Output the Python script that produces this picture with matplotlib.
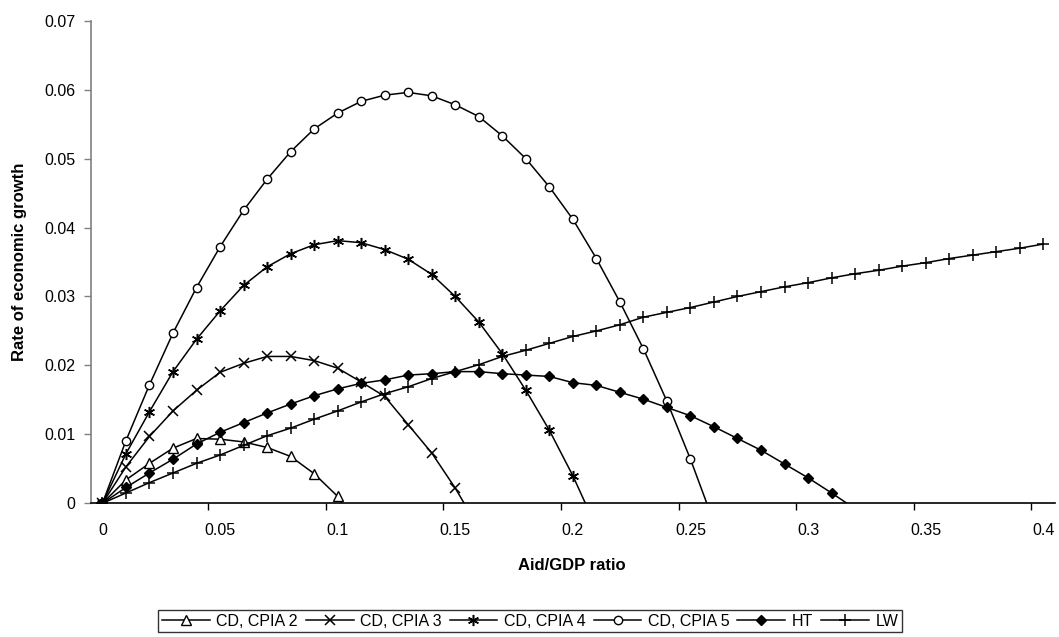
import matplotlib
matplotlib.use("Agg")
import matplotlib.pyplot as plt

plt.rcParams["font.family"] = ["Liberation Sans", "DejaVu Sans"]

# aid/GDP categories (0.00 .. 0.40)
AID_RATIO = [
    0.00, 0.01, 0.02, 0.03, 0.04, 0.05, 0.06, 0.07, 0.08, 0.09,
    0.10, 0.11, 0.12, 0.13, 0.14, 0.15, 0.16, 0.17, 0.18, 0.19,
    0.20, 0.21, 0.22, 0.23, 0.24, 0.25, 0.26, 0.27, 0.28, 0.29,
    0.30, 0.31, 0.32, 0.33, 0.34, 0.35, 0.36, 0.37, 0.38, 0.39, 0.40,
]

CD_CPIA2 = [0.0, 0.0034, 0.0058, 0.0080, 0.0094, 0.0093, 0.0089, 0.0081,
            0.0068, 0.0043, 0.0010, -0.0045]
CD_CPIA3 = [0.0, 0.0053, 0.0097, 0.0134, 0.0164, 0.0190, 0.0203, 0.0213,
            0.0213, 0.0207, 0.0196, 0.0176, 0.0155, 0.0114, 0.0073, 0.0022,
            -0.0036]
CD_CPIA4 = [0.0, 0.0072, 0.0133, 0.0191, 0.0238, 0.0279, 0.0316, 0.0343,
            0.0362, 0.0375, 0.0381, 0.0378, 0.0368, 0.0354, 0.0332, 0.0300,
            0.0263, 0.0217, 0.0164, 0.0106, 0.0040, -0.0035]
CD_CPIA5 = [0.0, 0.0091, 0.0172, 0.0247, 0.0313, 0.0372, 0.0425, 0.0470,
            0.0510, 0.0543, 0.0566, 0.0583, 0.0592, 0.0596, 0.0591, 0.0578,
            0.0561, 0.0533, 0.0500, 0.0459, 0.0412, 0.0355, 0.0292, 0.0224,
            0.0148, 0.0064, -0.0028]
HT = [0.0, 0.0023, 0.0044, 0.0064, 0.0086, 0.0103, 0.0117, 0.0131, 0.0144,
      0.0156, 0.0166, 0.0174, 0.0179, 0.0186, 0.0188, 0.0191, 0.0191, 0.0188,
      0.0186, 0.0184, 0.0175, 0.0171, 0.0161, 0.0151, 0.0139, 0.0127, 0.0111,
      0.0094, 0.0077, 0.0057, 0.0037, 0.0015, -0.0008]
LW = [0.0, 0.0015, 0.0030, 0.0044, 0.0058, 0.0070, 0.0084, 0.0098, 0.0109,
      0.0122, 0.0134, 0.0147, 0.0159, 0.0169, 0.0181, 0.0191, 0.0201, 0.0213,
      0.0222, 0.0232, 0.0242, 0.0250, 0.0259, 0.0270, 0.0277, 0.0284, 0.0292,
      0.0300, 0.0307, 0.0314, 0.0320, 0.0327, 0.0333, 0.0338, 0.0344, 0.0349,
      0.0355, 0.0360, 0.0365, 0.0370, 0.0376]

X_TICKS = [0, 0.05, 0.1, 0.15, 0.2, 0.25, 0.3, 0.35, 0.4]
Y_TICKS = [0, 0.01, 0.02, 0.03, 0.04, 0.05, 0.06, 0.07]

SERIES = [
    ("CD, CPIA 2", CD_CPIA2, dict(marker="^", ms=7.5, mfc="white", mew=1.0)),
    ("CD, CPIA 3", CD_CPIA3, dict(marker="x", ms=7.5, mew=1.1)),
    ("CD, CPIA 4", CD_CPIA4, dict(marker=(6, 2, 0), ms=8, mew=1.1)),
    ("CD, CPIA 5", CD_CPIA5, dict(marker="o", ms=6, mfc="white", mew=1.0)),
    ("HT", HT, dict(marker="D", ms=5.5, mfc="black", mew=1.0)),
    ("LW", LW, dict(marker="+", ms=8, mew=1.1)),
]

fig = plt.figure(figsize=(10.59, 6.37), dpi=100)
ax = fig.add_axes([90.7 / 1059, 1 - 503.3 / 637, (1055 - 90.7) / 1059,
                   (503.3 - 20.7) / 637])

for name, vals, style in SERIES:
    xs = AID_RATIO[:len(vals)]
    ax.plot(xs, vals, color="black", lw=1.1, label=name,
            markevery=[v >= 0 for v in vals], mec="black", **style)

ax.set_xlim(-0.005, 0.405)
ax.set_ylim(0, 0.07)

# category axis: labels sit on the categories, tick marks between them
ax.set_xticks(X_TICKS)
ax.set_xticklabels([f"{v:g}" for v in X_TICKS])
ax.set_xticks([v - 0.005 for v in X_TICKS[1:]], minor=True)
ax.tick_params(axis="x", which="major", length=0, pad=14, labelsize=11.5)
ax.tick_params(axis="x", which="minor", length=5, width=1.0, color="black")

ax.set_yticks(Y_TICKS)
ax.set_yticklabels([f"{v:g}" for v in Y_TICKS])
ax.tick_params(axis="y", length=5, width=1.0, color="#808080", pad=6,
               labelsize=11.5)

for s in ("top", "right"):
    ax.spines[s].set_visible(False)
ax.spines["left"].set_color("#808080")
ax.spines["left"].set_linewidth(1.2)
ax.spines["bottom"].set_color("black")
ax.spines["bottom"].set_linewidth(1.2)

fig.text(20 / 1059, 1 - 262 / 637, "Rate of economic growth", rotation=90,
         ha="center", va="center", fontsize=12, fontweight="bold")
fig.text(572 / 1059, 1 - 566 / 637, "Aid/GDP ratio", ha="center",
         va="center", fontsize=12, fontweight="bold")

leg = fig.legend(loc="center", bbox_to_anchor=(530 / 1059, 1 - 621 / 637),
                 ncol=6, frameon=True, fancybox=False, edgecolor="black",
                 fontsize=11.5, handlelength=3.0, handletextpad=0.4,
                 columnspacing=0.5, borderpad=0.25, borderaxespad=0)
leg.get_frame().set_linewidth(1.0)

fig.savefig("out.png", dpi=100)
